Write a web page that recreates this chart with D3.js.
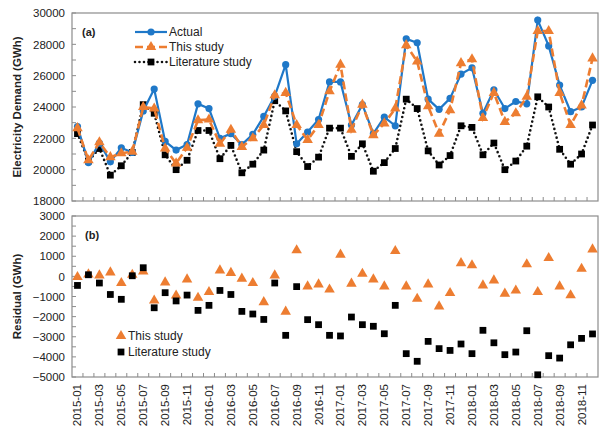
<!DOCTYPE html>
<html>
<head>
<meta charset="utf-8">
<script src="https://cdn.jsdelivr.net/npm/d3@7"></script>
<style>
  body { margin: 0; background: #fff; }
  svg { display: block; font-family: 'Liberation Sans', Arial, sans-serif; }
  .tick text { font-size: 11.5px; fill: #222; }
</style>
</head>
<body>
<div id="chart"></div>
<script>
// monthly categories 2015-01 .. 2018-12
const months = []
for (let y = 2015; y <= 2018; y++)
  for (let m = 1; m <= 12; m++) months.push(y + '-' + String(m).padStart(2, '0'))

const actual = [
  22750, 20450, 21700, 20500, 21400, 21100, 23750, 25150, 21800, 21250, 21600, 24200,
  23900, 22000, 22300, 21600, 22250, 23400, 24700, 26700, 21650, 22400, 23200, 25600,
  25600, 22850, 24150, 22300, 23350, 22800, 28350, 28100, 24500, 23850, 24550, 26100,
  26500, 23600, 25100, 23900, 24350, 24200, 29550, 27900, 25400, 23700, 24000, 25700
]
const thisStudy = [
  22650, 20600, 21750, 20800, 21050, 21150, 24000, 23900, 21350, 20400, 21400, 23150,
  23200, 21650, 22550, 21450, 22000, 22850, 24750, 24900, 22850, 21900, 22850, 25000,
  26700, 22550, 24150, 22200, 22950, 23900, 27950, 26900, 24050, 22300, 23800, 26800,
  27050, 23300, 24900, 23050, 23600, 24650, 28850, 28850, 24900, 22850, 24100, 27100
]
const literature = [
  22300, 20550, 21350, 19650, 20250, 21100, 24150, 23600, 20950, 20000, 20600, 22500,
  22500, 20700, 21550, 19800, 20350, 21250, 24400, 23750, 21150, 20200, 20800, 22650,
  22650, 20850, 21650, 19900, 20450, 21350, 24500, 23900, 21200, 20300, 20900, 22800,
  22700, 20950, 21700, 20000, 20550, 21500, 24650, 24000, 21300, 20350, 21000, 22850
]
const residThis = [
  -30, 100, 50, 200, -330, 80, 250, -1200, -300, -950, -150, -1060,
  -780, 300, 170, -110, -330, -1280, 50, -1750, 1300, -500, -400, -650,
  1080, -360, 130, -150, -500, 1260, -500, -1110, -400, -1490, -830, 660,
  550, -450, -200, -860, -700, 600, -780, 910, -500, -940, 380, 1340
]
const residLit = [
  -450, 80, -330, -900, -1140, 30, 430, -1560, -810, -1220, -930, -1690,
  -1440, -700, -900, -1740, -1870, -2140, -330, -2930, -510, -2150, -2400, -2930,
  -2960, -2020, -2400, -2480, -2850, -1440, -3840, -4220, -3230, -3590, -3680, -3360,
  -3840, -2680, -3300, -3890, -3760, -2700, -4890, -3940, -4060, -3400, -3080, -2860
]
const topTicks = [18000, 20000, 22000, 24000, 26000, 28000, 30000]
const bottomTicks = [-5000, -4000, -3000, -2000, -1000, 0, 1000, 2000, 3000]

const blue = '#1f78c8'
const orange = '#ed7d31'
const frameColor = '#8c8c8c'

const W = 600, H = 433
const left = 72, right = 598
const topPanel = { y0: 13, y1: 201 }
const botPanel = { y0: 216, y1: 377 }

const svg = d3.select('#chart').append('svg')
  .attr('width', W)
  .attr('height', H)

const x = d3.scaleBand().domain(months).range([left, right]).padding(0)
const cx = d => x(d) + x.bandwidth() / 2

const yTop = d3.scaleLinear().domain([18000, 30000]).range([topPanel.y1, topPanel.y0])
const yBot = d3.scaleLinear().domain([-5000, 3000]).range([botPanel.y1, botPanel.y0])

function drawFrame(panel, yScale, ticks, minorStep) {
  let g = svg.append('g')
  // minor ticks on y
  let minor = d3.range(yScale.domain()[0], yScale.domain()[1] + 1, minorStep)
  g.selectAll('.minor').data(minor).enter().append('line')
    .attr('x1', left).attr('x2', left + 4)
    .attr('y1', d => yScale(d)).attr('y2', d => yScale(d))
    .style('stroke', frameColor).style('stroke-width', 1)

  let ay = g.append('g')
    .attr('transform', 'translate(' + left + ',0)')
    .call(d3.axisLeft(yScale).tickValues(ticks).tickSize(0).tickPadding(7).tickFormat(d3.format('d')))
  ay.select('.domain').remove()

  // x ticks at category boundaries, pointing inside
  g.selectAll('.xt').data(months.slice(1)).enter().append('line')
    .attr('x1', d => x(d)).attr('x2', d => x(d))
    .attr('y1', panel.y1).attr('y2', panel.y1 - 4)
    .style('stroke', frameColor).style('stroke-width', 1)

  g.append('rect')
    .attr('x', left).attr('y', panel.y0)
    .attr('width', right - left).attr('height', panel.y1 - panel.y0)
    .style('fill', 'none').style('stroke', frameColor).style('stroke-width', 1.2)
}

drawFrame(topPanel, yTop, topTicks, 1000)
drawFrame(botPanel, yBot, bottomTicks, 500)

// x labels, every other month
svg.selectAll('.xlab').data(months.filter((d, i) => i % 2 === 0)).enter().append('text')
  .attr('transform', d => 'translate(' + (cx(d) + 4) + ',' + (botPanel.y1 + 7) + ') rotate(-90)')
  .attr('text-anchor', 'end')
  .style('font-size', '11.5px').style('fill', '#222')
  .text(d => d)

// axis titles
svg.append('text')
  .attr('transform', 'translate(21,' + ((topPanel.y0 + topPanel.y1) / 2) + ') rotate(-90)')
  .attr('text-anchor', 'middle')
  .style('font-size', '11.5px').style('font-weight', 'bold').style('fill', '#222')
  .text('Electricity Demand (GWh)')
svg.append('text')
  .attr('transform', 'translate(21,' + ((botPanel.y0 + botPanel.y1) / 2) + ') rotate(-90)')
  .attr('text-anchor', 'middle')
  .style('font-size', '11.5px').style('font-weight', 'bold').style('fill', '#222')
  .text('Residual (GWh)')

// ---- top panel series
const tri = d3.symbol().type(d3.symbolTriangle).size(48)
const sq = d3.symbol().type(d3.symbolSquare).size(46)

function drawLine(values, color, dash, width) {
  let ln = d3.line().x((d, i) => cx(months[i])).y(d => yTop(d))
  svg.append('path')
    .datum(values)
    .attr('d', ln)
    .style('fill', 'none')
    .style('stroke', color)
    .style('stroke-width', width)
    .style('stroke-dasharray', dash)
    .style('stroke-linecap', dash === '0,4.5' ? 'round' : 'butt')
}

drawLine(literature, '#111', '0,4.5', 2.6)
svg.selectAll('.litpt').data(literature).enter().append('path')
  .attr('d', sq)
  .attr('transform', (d, i) => 'translate(' + cx(months[i]) + ',' + yTop(d) + ')')
  .style('fill', '#000')

drawLine(actual, blue, null, 2.2)
svg.selectAll('.actpt').data(actual).enter().append('circle')
  .attr('cx', (d, i) => cx(months[i]))
  .attr('cy', d => yTop(d))
  .attr('r', 3.6)
  .style('fill', blue)

drawLine(thisStudy, orange, '8,4', 2.6)
svg.selectAll('.thispt').data(thisStudy).enter().append('path')
  .attr('d', tri)
  .attr('transform', (d, i) => 'translate(' + cx(months[i]) + ',' + yTop(d) + ')')
  .style('fill', orange)

// ---- bottom panel
svg.selectAll('.rthis').data(residThis).enter().append('path')
  .attr('d', tri)
  .attr('transform', (d, i) => 'translate(' + cx(months[i]) + ',' + yBot(d) + ')')
  .style('fill', orange)
svg.selectAll('.rlit').data(residLit).enter().append('path')
  .attr('d', sq)
  .attr('transform', (d, i) => 'translate(' + cx(months[i]) + ',' + yBot(d) + ')')
  .style('fill', '#000')

// ---- labels and legends
svg.append('text').attr('x', 82).attr('y', 36)
  .style('font-size', '11px').style('font-weight', 'bold').style('fill', '#222').text('(a)')
svg.append('text').attr('x', 85).attr('y', 239)
  .style('font-size', '11px').style('font-weight', 'bold').style('fill', '#222').text('(b)')

let lg = svg.append('g')
let legendRows = [
  { name: 'Actual', color: blue, dash: null, w: 2.2, mark: 'circle' },
  { name: 'This study', color: orange, dash: '8,4', w: 2.6, mark: 'tri' },
  { name: 'Literature study', color: '#111', dash: '0,4.5', w: 2.6, mark: 'sq' }
]
legendRows.forEach((r, i) => {
  let yy = 32 + i * 15
  lg.append('line')
    .attr('x1', 135).attr('x2', 167).attr('y1', yy).attr('y2', yy)
    .style('stroke', r.color).style('stroke-width', r.w)
    .style('stroke-dasharray', r.dash)
    .style('stroke-linecap', r.dash === '0,4.5' ? 'round' : 'butt')
  if (r.mark === 'circle')
    lg.append('circle').attr('cx', 151).attr('cy', yy).attr('r', 3.6).style('fill', r.color)
  else
    lg.append('path').attr('d', r.mark === 'tri' ? tri : sq)
      .attr('transform', 'translate(151,' + yy + ')').style('fill', r.color === '#111' ? '#000' : r.color)
  lg.append('text').attr('x', 169).attr('y', yy + 4)
    .style('font-size', '12px').style('fill', '#222').text(r.name)
})

let lg2 = svg.append('g')
lg2.append('path').attr('d', tri).attr('transform', 'translate(121,336)').style('fill', orange)
lg2.append('text').attr('x', 128).attr('y', 340).style('font-size', '12px').style('fill', '#222').text('This study')
lg2.append('path').attr('d', sq).attr('transform', 'translate(121,352)').style('fill', '#000')
lg2.append('text').attr('x', 128).attr('y', 356).style('font-size', '12px').style('fill', '#222').text('Literature study')
</script>
</body>
</html>
